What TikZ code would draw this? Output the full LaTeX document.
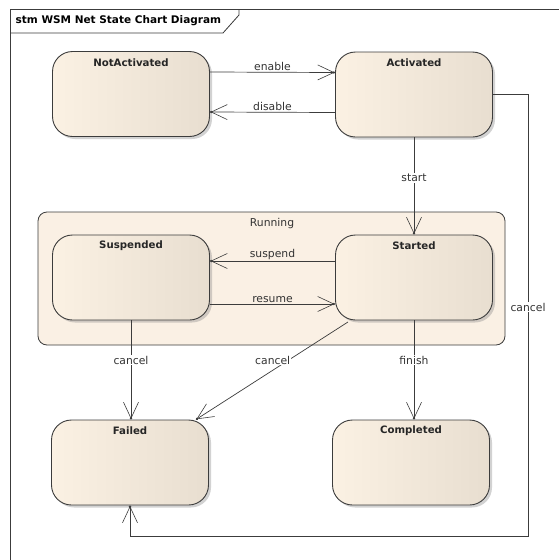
\documentclass[tikz,border=0pt]{standalone}
\usepackage{fontspec}
\setmainfont{DejaVu Sans}
\usetikzlibrary{arrows.meta,shadows}
\definecolor{stateL}{RGB}{251,241,227}
\definecolor{stateR}{RGB}{232,222,208}
\definecolor{runfill}{RGB}{250,240,228}
\definecolor{edge}{RGB}{60,60,60}
\tikzset{
  state/.style={draw=edge, line width=0.9pt, rounded corners=20pt,
    minimum width=157pt, minimum height=85pt,
    left color=stateL, right color=stateR,
    drop shadow={shadow xshift=2.5pt, shadow yshift=-2.5pt, opacity=0.35, fill=gray}},
  stitle/.style={font=\bfseries\fontsize{10.2}{11}\selectfont, text=black!85},
  trans/.style={draw=edge, line width=0.7pt,
    -{Straight Barb[length=16pt,width=15pt,line width=0.6pt,sep=-1.8pt] Circle[length=2.4pt]}},
  lbl/.style={font=\fontsize{10.8}{12}\selectfont, text=black!80, fill=white, inner sep=1.2pt},
}
\begin{document}
\begin{tikzpicture}[x=1pt,y=-1pt]
  \useasboundingbox (0,0) rectangle (559,560);
  \fill[white] (0,0) rectangle (559,560);

  % diagram frame and its name tab
  \draw[edge, line width=0.9pt] (10,560) -- (10,9.5) -- (559,9.5);
  \draw[edge, line width=0.8pt] (10,33) -- (223,33) -- (239,15) -- (239,9.5);
  \node[anchor=west, font=\bfseries\fontsize{10.5}{12}\selectfont, inner sep=0pt] (title)
    at (15.5,21) {stm WSM Net State Chart Diagram};

  % composite state
  \node[draw=edge, line width=0.8pt, rounded corners=9pt, fill=runfill,
        minimum width=467pt, minimum height=133pt] (run) at (271.5,278.5) {};
  \node[font=\fontsize{10.8}{12}\selectfont, text=black!80] (runlbl) at (272,224) {Running};

  % states
  \node[state] (na)   at (131,94)   {};
  \node[state] (act)  at (414,94.5) {};
  \node[state] (susp) at (131,277.5) {};
  \node[state] (st)   at (414,277.5) {};
  \node[state] (fail) at (130,462.5) {};
  \node[state] (comp) at (411,462.5) {};

  \node[stitle] (naT)   at (131,63)  {NotActivated};
  \node[stitle] (actT)  at (414,63)  {Activated};
  \node[stitle] (suspT) at (131,246) {Suspended};
  \node[stitle] (stT)   at (414,246) {Started};
  \node[stitle] (failT) at (130,431) {Failed};
  \node[stitle] (compT) at (411,431) {Completed};

  % transitions
  \draw[trans] ([yshift=22pt]na.east) -- ([yshift=22pt]act.west)
    node[lbl, midway, above=0pt, fill=none] (lenable) {enable};
  \draw[trans] ([yshift=-18pt]act.west) -- ([yshift=-18pt]na.east)
    node[lbl, midway, above=0pt, fill=none] (ldisable) {disable};

  \draw[trans] (act.south) -- (st.north)
    node[lbl, pos=0.42] (lstart) {start};

  \draw[trans] ([yshift=16.5pt]st.west) -- ([yshift=16.5pt]susp.east)
    node[lbl, midway, above=0pt, fill=none] (lsuspend) {suspend};
  \draw[trans] ([yshift=-26.5pt]susp.east) -- ([yshift=-26.5pt]st.west)
    node[lbl, midway, above=0pt, fill=none] (lresume) {resume};

  \draw[trans] (susp.south) -- (susp.south |- fail.north)
    node[lbl, pos=0.4] (lcancel1) {cancel};
  \draw[trans] ([xshift=13pt,yshift=-1.5pt]st.south west) -- ([xshift=-13pt]fail.north east)
    node[lbl, pos=0.39, xshift=-16pt] (lcancel2) {cancel};
  \draw[trans] (st.south -| 414,0) -- (comp.north -| 414,0)
    node[lbl, pos=0.4] (lfinish) {finish};

  \coordinate (corner) at (528,536);
  \draw[trans] (act.east) -| (corner) -| (fail.south);
  \node[lbl] (lcancel3) at (528,307) {cancel};
\end{tikzpicture}
\end{document}
